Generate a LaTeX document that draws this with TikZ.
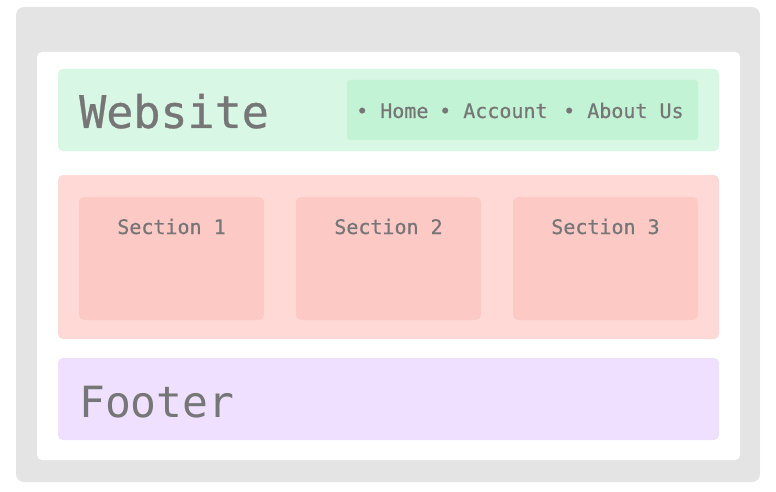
\documentclass[tikz,border=0pt]{standalone}
\usepackage{fontspec}
\setmonofont{DejaVu Sans Mono}
\newfontfamily\medmono[FakeBold=0.6]{DejaVu Sans Mono}
\definecolor{outergray}{HTML}{E4E4E4}
\definecolor{headgreen}{HTML}{D8F8E5}
\definecolor{navgreen}{HTML}{C3F3D5}
\definecolor{mainred}{HTML}{FFD9D6}
\definecolor{secred}{HTML}{FDC9C5}
\definecolor{footpurple}{HTML}{EFE0FF}
\definecolor{txtgray}{HTML}{767676}
\begin{document}
\begin{tikzpicture}[x=1pt,y=-1pt,
  panel/.style={rounded corners=5pt, draw=none},
  titletxt/.style={anchor=base west, inner sep=0pt, text=txtgray, font=\medmono\fontsize{45}{50}\selectfont},
  foottxt/.style={anchor=base west, inner sep=0pt, text=txtgray, font=\ttfamily\fontsize{43}{48}\selectfont},
  smalltxt/.style={anchor=base west, inner sep=0pt, text=txtgray, font=\medmono\fontsize{20}{24}\selectfont},
  sectxt/.style={anchor=base, inner sep=0pt, text=txtgray, font=\medmono\fontsize{20}{24}\selectfont}]
\useasboundingbox (0,0) rectangle (776,492);
\fill[outergray, rounded corners=8pt] (16,7) rectangle (760,482);
\fill[white, panel] (37,52) rectangle (740,460);
% header
\fill[headgreen, panel] (58,69) rectangle (719,151);
\fill[navgreen, rounded corners=3pt] (347,80) rectangle (698,140);
\node[titletxt] (title) at (79,128) {Website};
\node[smalltxt] (nav1) at (356,118) {• Home};
\node[smalltxt] (nav2) at (439,118) {• Account};
\node[smalltxt] (nav3) at (563,118) {• About Us};
% main
\fill[mainred, panel] (58,175) rectangle (719,339);
\fill[secred, panel] (79,197) rectangle (264,320);
\fill[secred, panel] (296,197) rectangle (481,320);
\fill[secred, panel] (513,197) rectangle (698,320);
\node[sectxt] (s1) at (171.5,234) {Section 1};
\node[sectxt] (s2) at (388.5,234) {Section 2};
\node[sectxt] (s3) at (605.5,234) {Section 3};
% footer
\fill[footpurple, panel] (58,358) rectangle (719,440);
\node[foottxt] (foot) at (79,417) {Footer};
\end{tikzpicture}
\end{document}
